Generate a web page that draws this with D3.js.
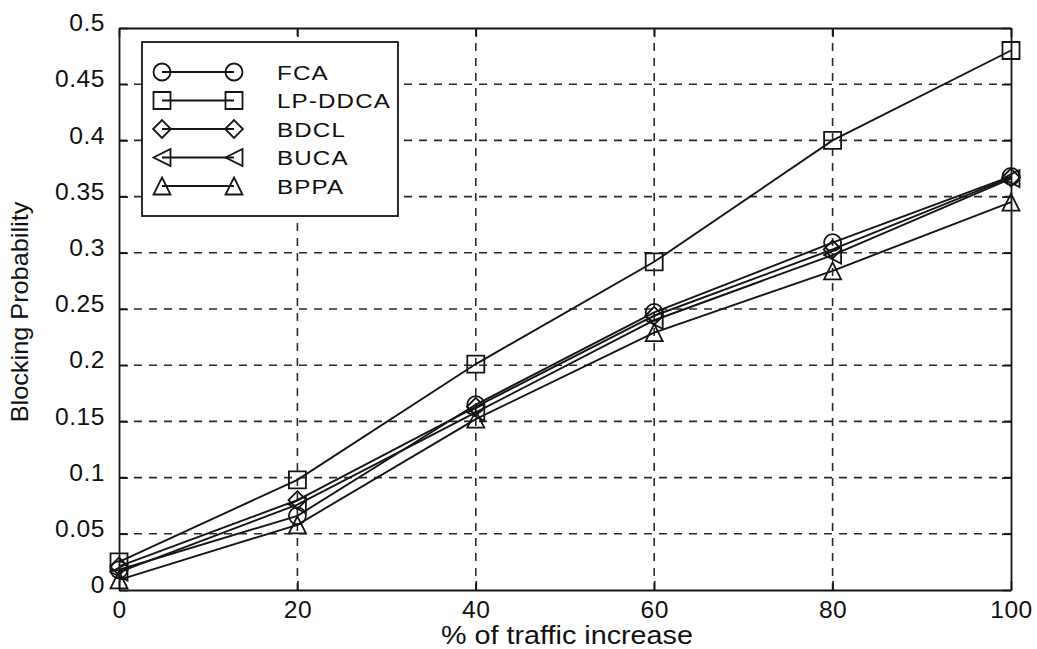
<!DOCTYPE html>
<html>
<head>
<meta charset="utf-8">
<script src="https://cdn.jsdelivr.net/npm/d3@7"></script>
<style>
  html, body { margin: 0; padding: 0; background: #fff; }
  svg { display: block; }
  text { font-family: "Liberation Sans", Arial, Helvetica, sans-serif; fill: #111; }
</style>
</head>
<body>
<svg id="chart" width="1037" height="649"></svg>
<script>
// Traffic increase (%) on the x axis
const trafficIncrease = [0, 20, 40, 60, 80, 100];

// Blocking probability for each allocation scheme
const fca    = [0.018, 0.066, 0.165, 0.247, 0.309, 0.368];
const lpDdca = [0.025, 0.098, 0.201, 0.292, 0.400, 0.480];
const bdcl   = [0.021, 0.080, 0.163, 0.244, 0.303, 0.367];
const buca   = [0.016, 0.076, 0.158, 0.240, 0.298, 0.366];
const bppa   = [0.009, 0.058, 0.152, 0.229, 0.284, 0.345];

const seriesNames = ["FCA", "LP-DDCA", "BDCL", "BUCA", "BPPA"];
const seriesMarkers = ["circle", "square", "diamond", "leftTriangle", "triangle"];

const xTicks = [0, 20, 40, 60, 80, 100];
const xTickLabels = ["0", "20", "40", "60", "80", "100"];
const yTicks = [0, 0.05, 0.1, 0.15, 0.2, 0.25, 0.3, 0.35, 0.4, 0.45, 0.5];
const yTickLabels = ["0", "0.05", "0.1", "0.15", "0.2", "0.25", "0.3", "0.35", "0.4", "0.45", "0.5"];

const xTitle = "% of traffic increase";
const yTitle = "Blocking Probability";

const seriesValues = [fca, lpDdca, bdcl, buca, bppa];

const svg = d3.select("#chart");
const plot = { left: 119, right: 1011, top: 28, bottom: 590 };

const x = d3.scaleLinear().domain([0, 100]).range([plot.left, plot.right]);
const y = d3.scaleLinear().domain([0, 0.5]).range([plot.bottom, plot.top]);

const ink = "#151515";
// the lettering is set a little wide
const textStretch = 1.15;
const tickTextStretch = 1.07;

// dashed grid
const grid = svg.append("g");
grid.selectAll("line.gx")
  .data(xTicks.slice(1, -1))
  .join("line")
  .attr("x1", d => x(d)).attr("x2", d => x(d))
  .attr("y1", plot.top).attr("y2", plot.bottom)
  .attr("stroke", "#2a2a2a").attr("stroke-width", 1.6)
  .attr("stroke-dasharray", "8,7");
grid.selectAll("line.gy")
  .data(yTicks.slice(1, -1))
  .join("line")
  .attr("x1", plot.left).attr("x2", plot.right)
  .attr("y1", d => y(d)).attr("y2", d => y(d))
  .attr("stroke", "#2a2a2a").attr("stroke-width", 1.6)
  .attr("stroke-dasharray", "8,7");

// axes with inward ticks on all four sides
const tickLen = 9;
const yLabelGap = 5;
const axisBottom = d3.axisBottom(x).tickValues(xTicks)
  .tickFormat((d, i) => xTickLabels[i]).tickSizeInner(-tickLen).tickSizeOuter(0).tickPadding(tickLen + 5);
const axisTop = d3.axisTop(x).tickValues(xTicks)
  .tickFormat("").tickSizeInner(-tickLen).tickSizeOuter(0);
const axisLeft = d3.axisLeft(y).tickValues(yTicks)
  .tickFormat((d, i) => yTickLabels[i]).tickSizeInner(-tickLen).tickSizeOuter(0).tickPadding(tickLen + yLabelGap);
const axisRight = d3.axisRight(y).tickValues(yTicks)
  .tickFormat("").tickSizeInner(-tickLen).tickSizeOuter(0);

function styleAxis(g) {
  g.select(".domain").attr("stroke", ink).attr("stroke-width", 1.8);
  g.selectAll(".tick line").attr("stroke", ink).attr("stroke-width", 1.6);
  g.selectAll(".tick text")
    .attr("fill", "#111")
    .style("font-family", '"Liberation Sans", Arial, sans-serif')
    .style("font-size", "23px")
    .style("letter-spacing", "0.5px");
}

svg.append("g").attr("transform", `translate(0,${plot.bottom})`).call(axisBottom).call(styleAxis)
  .selectAll(".tick text")
  .attr("dy", "0.6em")
  .attr("transform", `scale(${tickTextStretch},1)`);
svg.append("g").attr("transform", `translate(0,${plot.top})`).call(axisTop).call(styleAxis);
svg.append("g").attr("transform", `translate(${plot.left},0)`).call(axisLeft).call(styleAxis)
  .selectAll(".tick text")
  .attr("dy", "0.12em")
  .attr("x", -(tickLen + yLabelGap) / tickTextStretch)
  .attr("transform", `scale(${tickTextStretch},1)`);
svg.append("g").attr("transform", `translate(${plot.right},0)`).call(axisRight).call(styleAxis);

// axis titles
svg.append("text")
  .attr("transform", `translate(${(plot.left + plot.right) / 2 + 2},644) scale(${textStretch},1)`)
  .attr("text-anchor", "middle")
  .style("font-size", "25px")
  .text(xTitle);
svg.append("text")
  .attr("transform", `translate(28,${(plot.top + plot.bottom) / 2 + 3}) rotate(-90) scale(1.1,1)`)
  .attr("text-anchor", "middle")
  .style("font-size", "23px")
  .text(yTitle);

// marker shapes, unfilled
function markerPath(kind, s) {
  switch (kind) {
    case "circle":
      return d3.symbol(d3.symbolCircle, Math.PI * s * s)();
    case "square":
      return `M${-s},${-s}H${s}V${s}H${-s}Z`;
    case "diamond":
      return `M0,${-s * 1.05}L${s * 1.05},0L0,${s * 1.05}L${-s * 1.05},0Z`;
    case "leftTriangle":
      return `M${-s},0L${s},${-s}L${s},${s}Z`;
    case "triangle":
      return `M0,${-s}L${s},${s}L${-s},${s}Z`;
  }
}
const markerSize = 8.5;

const line = d3.line().x(d => x(d[0])).y(d => y(d[1]));

const plotArea = svg.append("g");
seriesValues.forEach((vals, i) => {
  const pts = trafficIncrease.map((t, j) => [t, vals[j]]);
  plotArea.append("path")
    .datum(pts)
    .attr("d", line)
    .attr("fill", "none")
    .attr("stroke", ink)
    .attr("stroke-width", 1.9);
  plotArea.selectAll(null)
    .data(pts)
    .join("path")
    .attr("transform", d => `translate(${x(d[0])},${y(d[1])})`)
    .attr("d", markerPath(seriesMarkers[i], markerSize))
    .attr("fill", "none")
    .attr("stroke", ink)
    .attr("stroke-width", 1.8);
});

// legend
const legend = { left: 142, top: 42, width: 256, rowGap: 28.5, firstRow: 72 };
const legendG = svg.append("g");
legendG.append("rect")
  .attr("x", legend.left).attr("y", legend.top)
  .attr("width", legend.width)
  .attr("height", legend.firstRow - legend.top + legend.rowGap * (seriesNames.length - 1) + 30)
  .attr("fill", "#fff")
  .attr("stroke", ink)
  .attr("stroke-width", 1.8);
seriesNames.forEach((name, i) => {
  const cy = legend.firstRow + i * legend.rowGap;
  const x1 = legend.left + 20, x2 = legend.left + 92;
  legendG.append("line")
    .attr("x1", x1).attr("x2", x2).attr("y1", cy).attr("y2", cy)
    .attr("stroke", ink).attr("stroke-width", 1.9);
  [x1, x2].forEach(mx => {
    legendG.append("path")
      .attr("transform", `translate(${mx},${cy})`)
      .attr("d", markerPath(seriesMarkers[i], markerSize))
      .attr("fill", "none")
      .attr("stroke", ink)
      .attr("stroke-width", 1.8);
  });
  legendG.append("text")
    .attr("transform", `translate(${legend.left + 135},${cy}) scale(${textStretch},1)`)
    .attr("dy", "0.36em")
    .style("font-size", "21px")
    .style("letter-spacing", "1px")
    .text(name);
});
</script>
</body>
</html>
